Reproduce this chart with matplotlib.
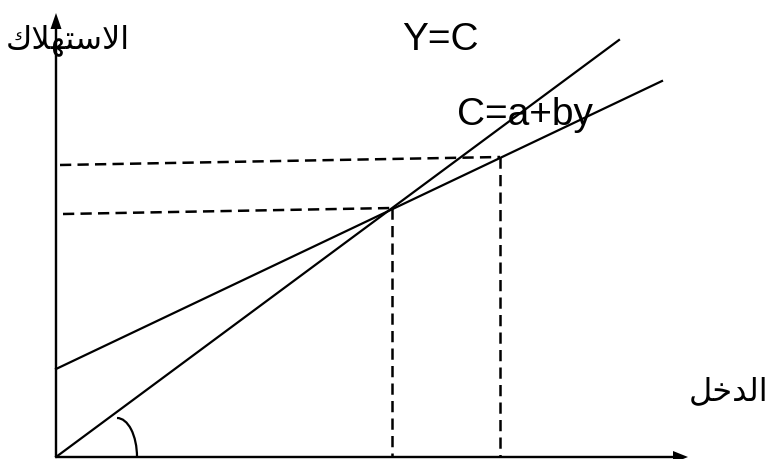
import matplotlib.pyplot as plt
from matplotlib.patches import Arc, FancyArrow

# coordinates measured from the origin of the diagram (x to the right, y up)
# 45 degree line Y=C
line45_x = [0, 563]
line45_y = [0, 417]
# consumption function C=a+by
cons_x = [0, 606]
cons_y = [88, 376]
# dashed guide lines (equilibrium and a higher income level)
eq_h_x = [7, 336]
eq_h_y = [243, 249]
eq_v_x = [336, 336]
eq_v_y = [249, 0]
hi_h_x = [4, 444]
hi_h_y = [292, 300]
hi_v_x = [444, 444]
hi_v_y = [300, 0]

# arabic labels written with presentation forms in visual order
label_cons = "\uFED9\uFEFC\uFEEC\uFE98\uFEB3\uFEFB\uFE8D"   # الاستهلاك
label_income = "\uFEDE\uFEA7\uFEAA\uFEDF\uFE8D"            # الدخل

fig = plt.figure(figsize=(7.73, 4.59), dpi=100)
ax = fig.add_axes([0, 0, 1, 1])
ax.set_xlim(-56, 773 - 56)
ax.set_ylim(-2, 457)
ax.axis('off')

# axes with arrows
ax.add_patch(FancyArrow(0, 0, 632, 0, width=2.4, head_width=12, head_length=15,
                        length_includes_head=True, color='black', lw=0))
ax.add_patch(FancyArrow(0, 0, 0, 444, width=2.4, head_width=11, head_length=16,
                        length_includes_head=True, color='black', lw=0))

ax.plot(line45_x, line45_y, color='black', lw=1.6)
ax.plot(cons_x, cons_y, color='black', lw=1.6)

for xs, ys in [(eq_h_x, eq_h_y), (eq_v_x, eq_v_y), (hi_h_x, hi_h_y), (hi_v_x, hi_v_y)]:
    ax.plot(xs, ys, color='black', lw=1.8, linestyle=(0, (4.5, 2.5)))

# angle mark near origin
ax.add_patch(Arc((61, 0), 40, 78, theta1=0, theta2=90, color='black', lw=1.6))

ax.text(346, 407, "Y=C", family='Liberation Sans', fontsize=28, ha='left', va='baseline')
ax.text(401, 332, "C=a+by", family='Liberation Sans', fontsize=28, ha='left', va='baseline')
ax.text(74, 409, label_cons, family='DejaVu Sans', fontsize=23, ha='right', va='baseline')
ax.text(712, 57, label_income, family='DejaVu Sans', fontsize=23, ha='right', va='baseline')

fig.savefig('out.png', dpi=100)
